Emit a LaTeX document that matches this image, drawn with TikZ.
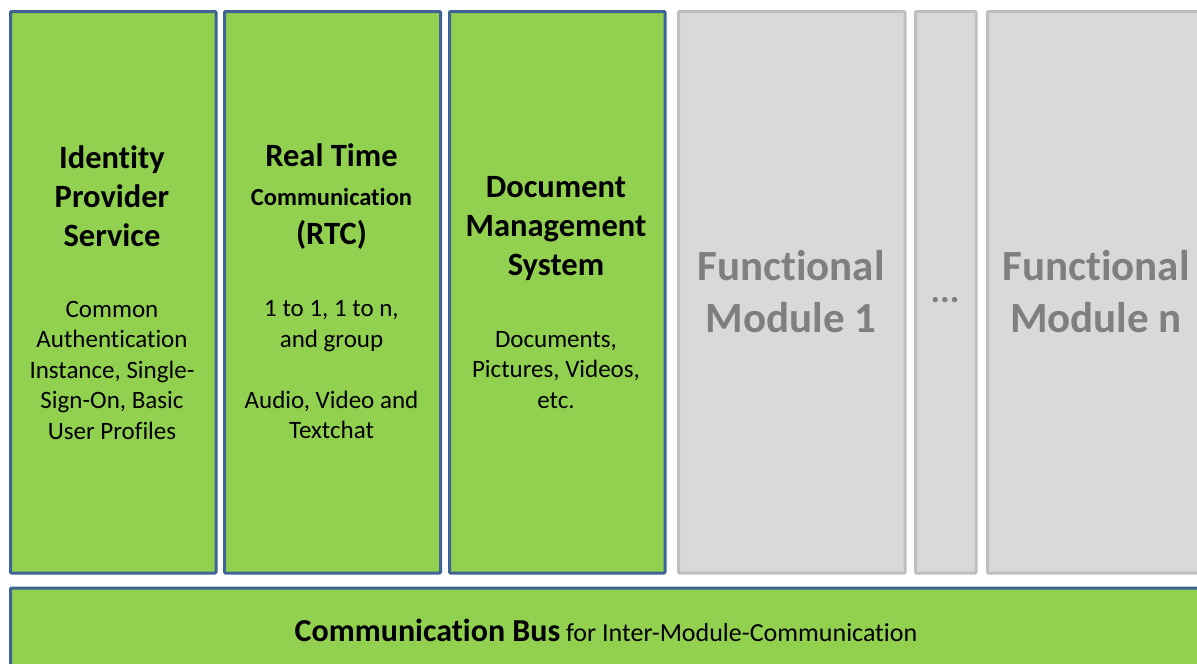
\documentclass[tikz,border=0pt]{standalone}
\usepackage{fontspec}
\setmainfont{Carlito}[Ligatures={NoCommon}]
\definecolor{modgreen}{HTML}{92D050}
\definecolor{modblue}{HTML}{3F6594}
\definecolor{greyfill}{HTML}{D9D9D9}
\definecolor{greyline}{HTML}{BFBFBF}
\definecolor{greytext}{HTML}{7F7F7F}
\tikzset{
  greenbox/.style={draw=modblue, fill=modgreen, line width=3pt, rounded corners=1pt, inner sep=0pt, anchor=north west},
  greybox/.style={draw=greyline, fill=greyfill, line width=3pt, rounded corners=1pt, inner sep=0pt, anchor=north west},
  title/.style={align=center, font=\fontsize{32.5}{39}\selectfont\bfseries, inner sep=0pt},
  body/.style={align=center, font=\fontsize{25}{30.5}\selectfont, inner sep=0pt},
  greytitle/.style={align=center, font=\fontsize{43}{52}\selectfont\bfseries, text=greytext, inner sep=0pt},
}
\begin{document}
\begin{tikzpicture}[x=1pt, y=-1pt]
\useasboundingbox (0,0) rectangle (1197,664);
\clip (0,0) rectangle (1197,664);
% module boxes
\node[greenbox, minimum width=205.5pt, minimum height=561.5pt] (idp) at (9,10) {};
\node[greenbox, minimum width=216pt, minimum height=561.5pt] (rtc) at (223,10) {};
\node[greenbox, minimum width=215.5pt, minimum height=561.5pt] (dms) at (448,10) {};
\node[greybox, minimum width=226.5pt, minimum height=561.5pt] (fm1) at (677,10) {};
\node[greybox, minimum width=60.5pt, minimum height=561.5pt] (dots) at (914,10) {};
\node[greybox, minimum width=224pt, minimum height=561.5pt] (fmn) at (986,10) {};
\node[greenbox, minimum width=1210pt, minimum height=100pt] (bus) at (9,586.5) {};
% texts
\node[title] (idpT) at (112,196) {Identity\\Provider\\Service};
\node[body] (idpB) at (112,370) {Common\\Authentication\\Instance, Single-\\Sign-On, Basic\\User Profiles};
\node[title] (rtcT) at (331.5,197) {Real Time\\{\fontsize{24.5}{39}\selectfont Communication}\\(RTC)};
\node[body] (rtcB) at (331.5,370) {1 to 1, 1 to n,\\and group\\[30.5pt]Audio, Video and\\Textchat};
\node[title] (dmsT) at (556,229) {Document\\Management\\System};
\node[body] (dmsB) at (556,370) {Documents,\\Pictures, Videos,\\etc.};
\node[greytitle] (fm1T) at (791,292) {Functional\\Module 1};
\node[font=\fontsize{36}{40}\selectfont\bfseries, text=greytext, inner sep=0pt] (dotsT) at (945,300) {...};
\node[greytitle] (fmnT) at (1096,292) {Functional\\Module n};
\node[inner sep=0pt] (busT) at (606,630) {{\fontsize{32}{36}\selectfont\bfseries Communication Bus}{\fontsize{26}{36}\selectfont\ for Inter-Module-Communication}};
\end{tikzpicture}
\end{document}
